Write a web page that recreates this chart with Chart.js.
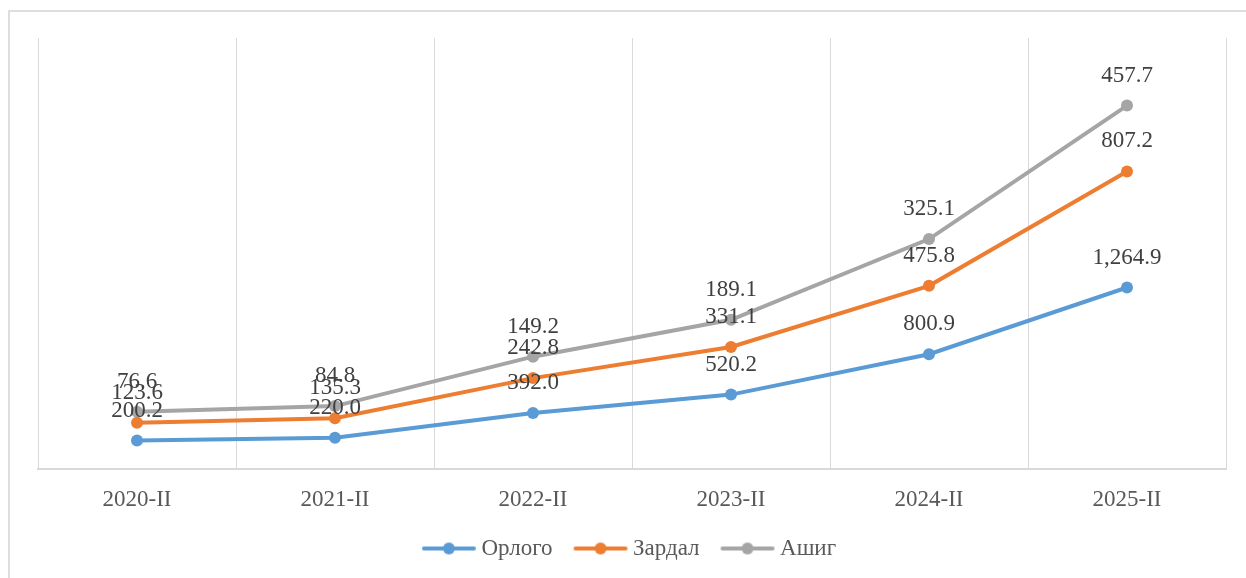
<!DOCTYPE html>
<html>
<head>
<meta charset="utf-8">
<script src="https://cdn.jsdelivr.net/npm/chart.js@4.4.1/dist/chart.umd.min.js"></script>
<style>
  html, body { margin: 0; padding: 0; background: #fff; overflow: hidden; }
  #frame { position: absolute; left: 8px; top: 10px; width: 1400px; height: 700px; border: 2px solid #dedede; }
  #wrap { position: absolute; left: 0; top: 0; width: 1246px; height: 578px; }
</style>
</head>
<body>
<div id="frame"></div>
<div id="wrap"><canvas id="chart"></canvas></div>
<script>
const categories = ["2020-II", "2021-II", "2022-II", "2023-II", "2024-II", "2025-II"];
const orlogo = [200.2, 220.0, 392.0, 520.2, 800.9, 1264.9];
const zardal = [123.6, 135.3, 242.8, 331.1, 475.8, 807.2];
const ashig = [76.6, 84.8, 149.2, 189.1, 325.1, 457.7];
const seriesNames = ["Орлого", "Зардал", "Ашиг"];
const colors = ["#5B9BD5", "#ED7D31", "#A5A5A5"];

const FONT = "'Liberation Serif', 'Times New Roman', serif";
const FONT_SIZE = 23;

// little line + dot picture for the legend
function legendMark(color) {
  const c = document.createElement("canvas");
  c.width = 56; c.height = 14;
  const g = c.getContext("2d");
  g.strokeStyle = color;
  g.lineWidth = 4;
  g.lineCap = "round";
  g.beginPath(); g.moveTo(3, 7); g.lineTo(53, 7); g.stroke();
  g.fillStyle = color;
  g.beginPath(); g.arc(28, 7, 6, 0, Math.PI * 2); g.fill();
  return c;
}

// value labels above each point
const valueLabels = {
  id: "valueLabels",
  afterDatasetsDraw(chart) {
    const ctx = chart.ctx;
    ctx.save();
    ctx.font = FONT_SIZE + "px " + FONT;
    ctx.fillStyle = "#404040";
    ctx.textAlign = "center";
    ctx.textBaseline = "middle";
    chart.data.datasets.forEach((ds, i) => {
      const meta = chart.getDatasetMeta(i);
      meta.data.forEach((pt, j) => {
        const txt = ds.data[j].toLocaleString("en-US", { minimumFractionDigits: 1, maximumFractionDigits: 1 });
        ctx.fillText(txt, pt.x, pt.y - 30);
      });
    });
    ctx.restore();
  }
};

const seriesData = [orlogo, zardal, ashig];

new Chart(document.getElementById("chart"), {
  type: "line",
  data: {
    labels: categories,
    datasets: seriesData.map((d, i) => ({
      label: seriesNames[i],
      data: d,
      borderColor: colors[i],
      backgroundColor: colors[i],
      borderWidth: 4,
      pointRadius: 6,
      pointHoverRadius: 6,
      pointBorderWidth: 0,
      tension: 0,
      fill: false
    }))
  },
  options: {
    responsive: true,
    maintainAspectRatio: false,
    animation: false,
    layout: { padding: { left: 38, right: 20, top: 38, bottom: 8 } },
    scales: {
      x: {
        offset: true,
        grid: { offset: true, color: "#d9d9d9", lineWidth: 1, drawTicks: false },
        border: { color: "#d9d9d9", width: 2 },
        ticks: { color: "#595959", font: { family: FONT, size: FONT_SIZE }, padding: 17 },
        afterFit(scale) { scale.height -= 21; }
      },
      y: {
        stacked: true,
        display: false,
        min: 0,
        max: 3000
      }
    },
    plugins: {
      tooltip: { enabled: false },
      legend: {
        position: "bottom",
        labels: {
          color: "#595959",
          font: { family: FONT, size: FONT_SIZE },
          usePointStyle: true,
          pointStyleWidth: 42,
          padding: 27,
          generateLabels(chart) {
            const items = Chart.defaults.plugins.legend.labels.generateLabels(chart);
            items.forEach((it, i) => { it.pointStyle = legendMark(colors[i]); });
            return items;
          }
        }
      }
    }
  },
  plugins: [valueLabels]
});
</script>
</body>
</html>
